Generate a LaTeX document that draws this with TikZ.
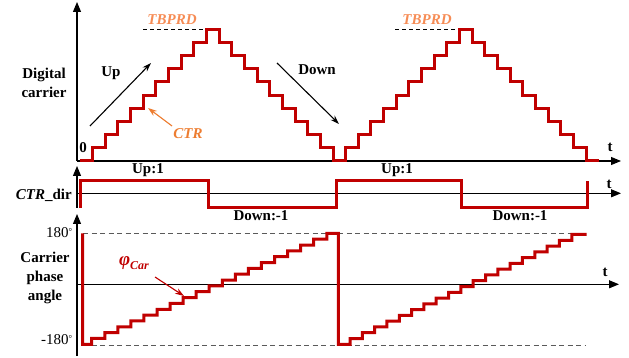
\documentclass[tikz,border=0pt]{standalone}
\usepackage{fontspec}
\setmainfont{Liberation Serif}
\usetikzlibrary{arrows.meta}
\definecolor{wave}{RGB}{192,0,0}
\definecolor{ctrorange}{RGB}{237,125,49}
\definecolor{prdorange}{RGB}{246,140,85}
\definecolor{refgray}{RGB}{90,90,90}

\begin{document}
\begin{tikzpicture}[x=1pt,y=-1pt,
  axis/.style={line width=1.1pt,-{Triangle[length=10pt,width=8pt]}},
  sig/.style={draw=wave,line width=3pt,line join=miter},
  lbl/.style={font=\fontsize{15}{19}\selectfont\bfseries,inner sep=0pt},
  num/.style={font=\fontsize{15}{18}\selectfont,inner sep=0pt},
  pointer/.style={line width=1.1pt,-{Stealth[length=9pt,width=6pt]}},
  limit/.style={draw=refgray,line width=0.9pt,dash pattern=on 5pt off 3.5pt},
  peak/.style={draw=black,line width=0.9pt,dash pattern=on 4pt off 3pt}]
\useasboundingbox (0,0) rectangle (629,358);

% ---------- axes ----------
\coordinate (o1) at (77,161);
\coordinate (y1) at (77,2);
\coordinate (x1) at (621,161);
\coordinate (o2b) at (77,208);
\coordinate (y2) at (77,166);
\coordinate (o2) at (77,193.3);
\coordinate (x2) at (621,193.3);
\coordinate (o3b) at (77,356);
\coordinate (y3) at (77,214);
\coordinate (o3) at (77,284.3);
\coordinate (x3) at (619,284.3);
\draw[axis] (o1) -- (y1);
\draw[axis] (o1) -- (x1);
\draw[axis] (o2b) -- (y2);
\draw[axis] (o2) -- (x2);
\draw[axis] (o3b) -- (y3);
\draw[axis] (o3) -- (x3);

% ---------- top panel: digital carrier ----------
\coordinate (p1a) at (143,29.3);
\coordinate (p1b) at (206,29.3);
\coordinate (p2a) at (395,29.3);
\coordinate (p2b) at (459,29.3);
\draw[peak] (p1a) -- (p1b);
\draw[peak] (p2a) -- (p2b);

\draw[sig] (80,161) -- (92.65,161)
  \foreach \i [evaluate=\i as \lev using {10-abs(mod(\i,20)-10)}] in {1,...,40}
  { -- ({80+\i*12.65},{161-\lev*13.17}) -- ({80+(\i+1)*12.65},{161-\lev*13.17}) };

\node[lbl,align=center] (dc) at (44,83) {Digital\\carrier};
\node[lbl] (zero) at (83,148) {0};
\node[lbl] (up) at (111,73) {Up};
\node[lbl] (down) at (317,70) {Down};
\node[lbl] (t1) at (610,147) {t};
\node[lbl,font=\fontsize{15}{18}\selectfont\bfseries\itshape,text=prdorange] (prd1) at (172,20) {TBPRD};
\node[lbl,font=\fontsize{15}{18}\selectfont\bfseries\itshape,text=prdorange] (prd2) at (427,20) {TBPRD};
\node[lbl,font=\fontsize{15}{18}\selectfont\bfseries\itshape,text=ctrorange] (ctr) at (188,134) {CTR};

\coordinate (upS) at (90,126);
\coordinate (upE) at (151,63);
\coordinate (dnS) at (277,63);
\coordinate (dnE) at (339,124);
\coordinate (ctrS) at (172,126);
\coordinate (ctrE) at (148,108);
\draw[pointer] (upS) -- (upE);
\draw[pointer] (dnS) -- (dnE);
\draw[pointer,draw=ctrorange,fill=ctrorange] (ctrS) -- (ctrE);

% ---------- middle panel: counter direction ----------
\draw[sig] (80,208) -- (80,180.7) -- (208.3,180.7) -- (208.3,207.3)
  -- (336,207.3) -- (336,180.7) -- (461,180.7) -- (461,207.3)
  -- (587,207.3) -- (587,180.7);

\node[lbl,anchor=east] (dir) at (72,195) {\textit{CTR}\_dir};
\node[lbl] (t2) at (609,184) {t};
\node[lbl] (u1) at (148,170) {Up:1};
\node[lbl] (u2) at (397,170) {Up:1};
\node[lbl] (d1) at (261,215.5) {Down:-1};
\node[lbl] (d2) at (520,215.5) {Down:-1};

% ---------- bottom panel: carrier phase angle ----------
\coordinate (hiA) at (83,233.3);
\coordinate (hiB) at (586,233.3);
\coordinate (loA) at (83,345);
\coordinate (loB) at (586,345);
\draw[limit] (hiA) -- (hiB);
\draw[limit] (loA) -- (loB);

\draw[sig] (82.7,233.3) -- (82.7,344.3)
  \foreach \j in {1,...,19}
  { -- ({91.7+(\j-1)*13.06},{344.3-(\j-1)*5.84}) -- ({91.7+(\j-1)*13.06},{344.3-\j*5.84}) }
  -- (338.3,233.3) -- (338.3,344.3)
  \foreach \j in {1,...,19}
  { -- ({350+(\j-1)*12.32},{344.3-(\j-1)*5.78}) -- ({350+(\j-1)*12.32},{344.3-\j*5.78}) }
  -- (586.7,234.5);

\node[num,anchor=east] (p180) at (72.5,233) {180\raisebox{3pt}{\fontsize{9}{9}\selectfont°}};
\node[num,anchor=east] (m180) at (72.5,340) {-180\raisebox{3pt}{\fontsize{9}{9}\selectfont°}};
\node[lbl,align=center] (cpa) at (45,277.5) {Carrier\\phase\\angle};
\node[lbl] (t3) at (605,272) {t};
\node[inner sep=0pt,text=wave] (phi) at (134,263)
  {\fontsize{19}{20}\selectfont\bfseries\itshape φ\raisebox{-4pt}{\fontsize{12}{12}\selectfont Car}};

\coordinate (phS) at (155,277);
\coordinate (phE) at (184,296);
\draw[pointer,draw=wave,fill=wave] (phS) -- (phE);
\end{tikzpicture}
\end{document}
